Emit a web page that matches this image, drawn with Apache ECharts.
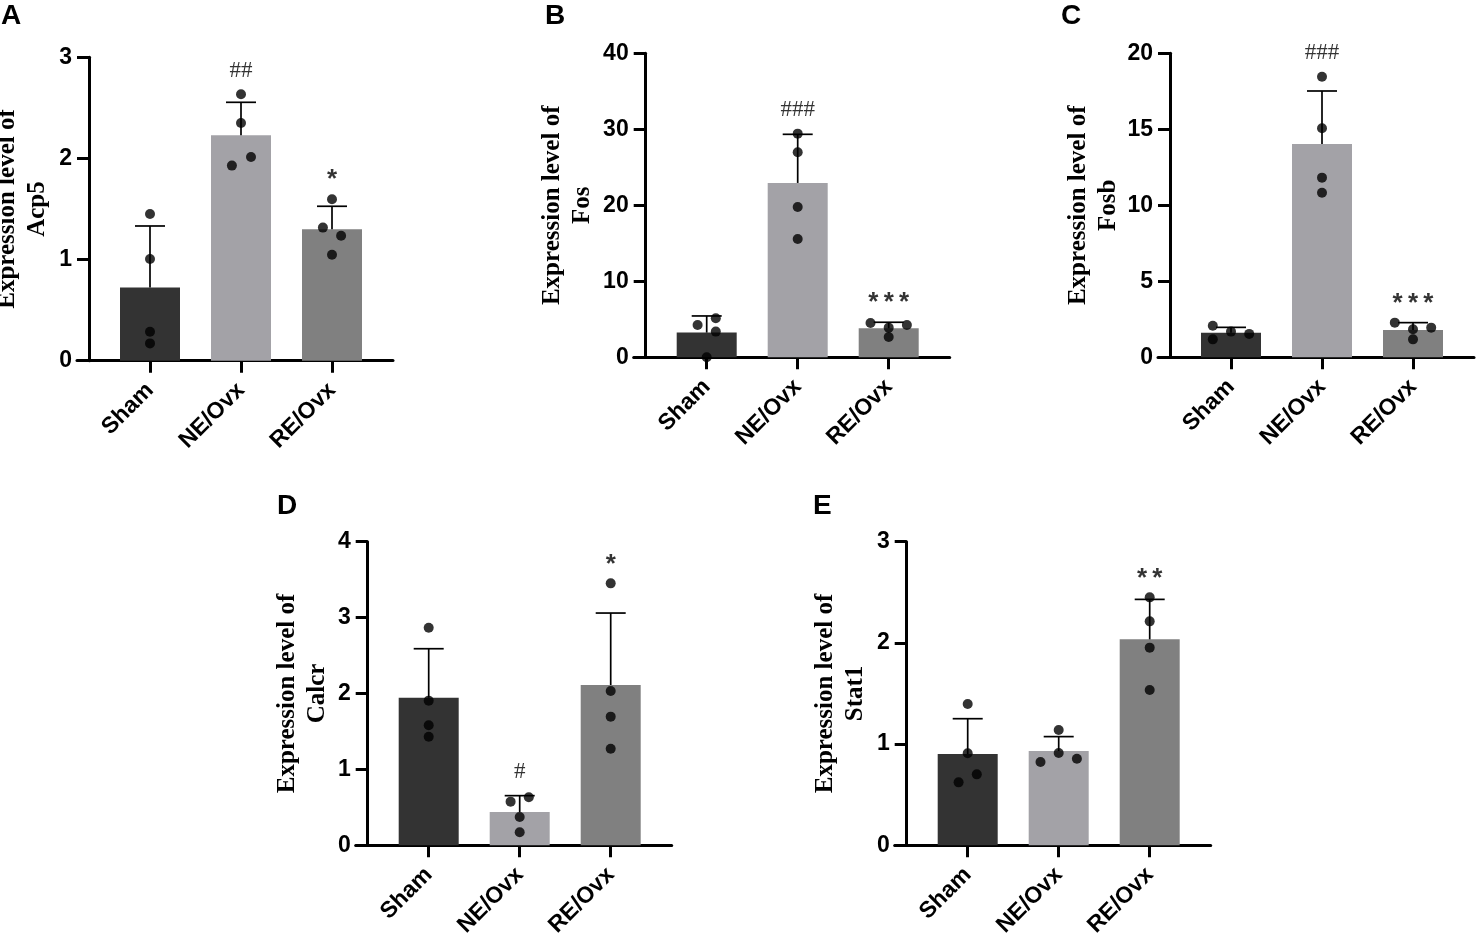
<!DOCTYPE html>
<html><head><meta charset="utf-8">
<script src="https://cdn.jsdelivr.net/npm/echarts@6/dist/echarts.min.js"></script>
<style>html,body{margin:0;padding:0;background:#fff}#c{width:1477px;height:935px}</style>
</head><body><div id="c"></div>
<script>
// ---------- data ----------
const categories = ['Sham', 'NE/Ovx', 'RE/Ovx'];
const panelLetters = ['A', 'B', 'C', 'D', 'E'];
const genes = ['Acp5', 'Fos', 'Fosb', 'Calcr', 'Stat1'];
const yMax = [3, 40, 20, 4, 3];
const yInterval = [1, 10, 5, 1, 1];

// Panel A - Acp5
const meanA = [0.725, 2.229, 1.299];
const sdA = [0.607, 0.326, 0.228];
const dotsA = [[1.45, 1.006, 0.287, 0.171], [2.634, 2.351, 2.015, 1.929], [1.596, 1.316, 1.236, 1.048]];
const sigA = ['', '##', '*'];
// Panel B - Fos
const meanB = [3.25, 22.94, 3.82];
const sdB = [2.19, 6.40, 0.79];
const dotsB = [[4.25, 5.13, 3.38, 0.0], [29.43, 26.97, 19.78, 15.57], [4.52, 4.25, 3.9, 2.68]];
const sigB = ['', '###', '***'];
// Panel C - Fosb
const meanC = [1.62, 14.04, 1.80];
const sdC = [0.35, 3.48, 0.48];
const dotsC = [[2.08, 1.18, 1.69, 1.54], [18.46, 15.07, 11.82, 10.83], [2.28, 1.95, 1.84, 1.18]];
const sigC = ['', '###', '***'];
// Panel D - Calcr
const meanD = [1.945, 0.439, 2.112];
const sdD = [0.645, 0.215, 0.948];
const dotsD = [[2.867, 1.906, 1.581, 1.431], [0.575, 0.632, 0.373, 0.171], [3.451, 2.033, 1.695, 1.273]];
const sigD = ['', '#', '*'];
// Panel E - Stat1
const meanE = [0.902, 0.932, 2.035];
const sdE = [0.349, 0.142, 0.395];
const dotsE = [[1.396, 0.909, 0.701, 0.622], [1.139, 0.912, 0.823, 0.856], [2.45, 2.213, 1.953, 1.535]];
const sigE = ['', '', '**'];

// horizontal scatter offsets of the dots (in category units)
const jitterA = [[0, 0, 0, 0], [0, 0, 0.11, -0.1], [0, -0.1, 0.1, 0]];
const jitterB = [[-0.1, 0.1, 0.1, 0], [0, 0, 0, 0], [-0.2, 0.2, 0, 0]];
const jitterC = [[-0.2, -0.2, 0, 0.2], [0, 0, 0, 0], [-0.2, 0.2, 0, 0]];
const jitterD = [[0, 0, 0, 0], [-0.1, 0.1, 0, 0], [0, 0, 0, 0]];
const jitterE = [[0, 0, 0.1, -0.1], [0, 0, -0.2, 0.2], [0, 0, 0, 0]];

const means = [meanA, meanB, meanC, meanD, meanE];
const sds = [sdA, sdB, sdC, sdD, sdE];
const dots = [dotsA, dotsB, dotsC, dotsD, dotsE];
const sigs = [sigA, sigB, sigC, sigD, sigE];
const jitters = [jitterA, jitterB, jitterC, jitterD, jitterE];

// ---------- style / layout ----------
const barColors = ['#333333', '#a3a2a7', '#808080'];
const panelBoxes = [
  {left: 77, top: 57.3, height: 303.4, nameGap: 36},
  {left: 633.7, top: 53.3, height: 304, nameGap: 48},
  {left: 1158, top: 53.3, height: 304, nameGap: 46},
  {left: 355.7, top: 541.7, height: 303.6, nameGap: 35},
  {left: 894.7, top: 541.7, height: 303.6, nameGap: 36}
];
const letterPos = [[-4, -3], [540, -3], [1056, -3], [272, 487], [808, 487]];
const band = 91, preGap = 12, firstGap = 61, lastGap = 61;
const gridWidth = preGap + firstGap + band * 2 + lastGap;
const xMin = -(preGap + firstGap) / band;
const xMax = 2 + lastGap / band;
const sans = 'Liberation Sans';
const serif = 'Liberation Serif';

const grids = [], xAxes = [], yAxes = [], series = [], titles = [];
panelBoxes.forEach((b, i) => {
  grids.push({left: b.left, top: b.top, width: gridWidth, height: b.height,
    containLabel: false, outerBoundsMode: 'none'});
  titles.push({text: panelLetters[i], left: letterPos[i][0], top: letterPos[i][1],
    textStyle: {fontFamily: sans, fontWeight: 'bold', fontSize: 28, color: '#000'}});
  xAxes.push({
    type: 'value', gridIndex: i, min: xMin, max: xMax,
    axisLine: {show: true, onZero: false, lineStyle: {color: '#000', width: 3}},
    axisTick: {show: true, customValues: [0, 1, 2], length: 12, lineStyle: {color: '#000', width: 3}},
    axisLabel: {customValues: [0, 1, 2], formatter: v => categories[Math.round(v)], rotate: 45, margin: 26,
      fontFamily: sans, fontWeight: 'bold', fontSize: 23, color: '#000'},
    splitLine: {show: false}
  });
  yAxes.push({
    type: 'value', gridIndex: i, min: 0, max: yMax[i], interval: yInterval[i], offset: -preGap,
    name: 'Expression level of\n' + genes[i], nameLocation: 'middle', nameGap: b.nameGap,
    nameMoveOverlap: false,
    nameTextStyle: {fontFamily: serif, fontWeight: 'bold', fontSize: 25, lineHeight: 30, color: '#000'},
    axisLine: {show: true, onZero: false, lineStyle: {color: '#000', width: 3}},
    axisTick: {show: true, length: 12, lineStyle: {color: '#000', width: 3}},
    axisLabel: {margin: 17, fontFamily: sans, fontWeight: 'bold', fontSize: 23, color: '#000'},
    splitLine: {show: false}
  });
  // bars
  series.push({
    type: 'bar', xAxisIndex: i, yAxisIndex: i, barWidth: 60, z: 1,
    data: means[i].map((m, j) => ({value: [j, m], itemStyle: {color: barColors[j]}})),
    silent: true
  });
  // error bars (mean to mean + SD)
  series.push({
    type: 'custom', xAxisIndex: i, yAxisIndex: i, z: 3, silent: true,
    data: means[i].map((m, j) => [j, m + sds[i][j], m]),
    renderItem: (params, api) => {
      const p0 = api.coord([api.value(0), api.value(2)]);
      const p1 = api.coord([api.value(0), api.value(1)]);
      const st = {stroke: '#000', lineWidth: 1.7};
      return {type: 'group', children: [
        {type: 'line', shape: {x1: p0[0], y1: p0[1], x2: p1[0], y2: p1[1]}, style: st},
        {type: 'line', shape: {x1: p1[0] - 15, y1: p1[1], x2: p1[0] + 15, y2: p1[1]}, style: st}
      ]};
    }
  });
  // individual points
  const pts = [];
  dots[i].forEach((arr, j) => arr.forEach((v, k) => pts.push([j + jitters[i][j][k], v])));
  series.push({
    type: 'scatter', xAxisIndex: i, yAxisIndex: i, z: 5, silent: true,
    symbol: 'circle', symbolSize: 10, itemStyle: {color: '#000'}, data: pts
  });
  // significance marks
  series.push({
    type: 'scatter', xAxisIndex: i, yAxisIndex: i, z: 6, silent: true, symbolSize: 0,
    data: sigs[i].map((s, j) => {
      const top = Math.max(means[i][j] + sds[i][j], ...dots[i][j]);
      const isHash = s.indexOf('#') >= 0;
      return {
        value: [j, top],
        label: {
          show: s !== '', position: 'top',
          distance: isHash ? 12 : 6,
          formatter: isHash ? s : s.split('').join('\u2009'),
          fontFamily: isHash ? serif : sans,
          fontWeight: isHash ? 'normal' : 'bold',
          fontSize: isHash ? 23 : 26, color: '#000'
        }
      };
    })
  });
});

const chart = echarts.init(document.getElementById('c'), null, {renderer: 'canvas'});
chart.setOption({
  backgroundColor: '#fff', animation: false,
  title: titles, grid: grids, xAxis: xAxes, yAxis: yAxes, series: series
});
</script></body></html>
